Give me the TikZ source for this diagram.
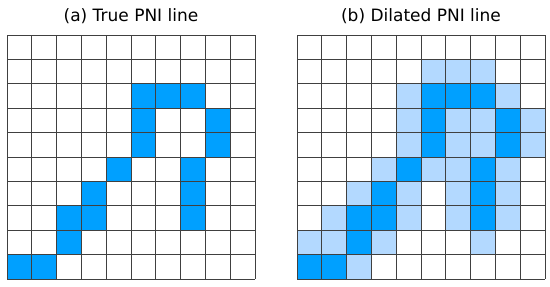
\documentclass[tikz,border=0pt]{standalone}
\usepackage{fontspec}
\setmainfont{DejaVu Sans}
\definecolor{lineblue}{HTML}{00A0FF}
\definecolor{dilblue}{HTML}{B3D9FF}
\begin{document}
\begin{tikzpicture}[x=1pt,y=-1pt,
cellgrid/.style={draw=black!75,line width=0.7pt},
truecell/.style={fill=lineblue},
dilcell/.style={fill=dilblue},
ttl/.style={font=\fontsize{17}{19}\selectfont,text=black}
]
\useasboundingbox (0,0) rectangle (550,287);
\node[ttl] (ta) at (131,16) {(a) True PNI line};
\node[ttl] (tb) at (421,16) {(b) Dilated PNI line};
% true line, both panels
\foreach \ox in {7,297}{
\foreach \c/\r in {5/2,6/2,7/2,5/3,8/3,5/4,8/4,4/5,7/5,3/6,7/6,2/7,3/7,7/7,2/8,0/9,1/9}
\fill[truecell] (\ox+\c*24.8,35+\r*24.4) rectangle ++(24.8,24.4);
}
% dilation
\foreach \c/\r in {5/1,6/1,7/1,4/2,8/2,4/3,6/3,7/3,9/3,4/4,6/4,7/4,9/4,3/5,5/5,6/5,8/5,2/6,4/6,6/6,8/6,1/7,4/7,6/7,8/7,0/8,1/8,3/8,7/8,2/9}
\fill[dilcell] (297+\c*24.8,35+\r*24.4) rectangle ++(24.8,24.4);
% grids
\foreach \ox in {7,297}{
\foreach \i in {0,...,10}{
\draw[cellgrid] (\ox+\i*24.8,35) -- (\ox+\i*24.8,279);
\draw[cellgrid] (\ox,35+\i*24.4) -- (\ox+248,35+\i*24.4);
}
}
\end{tikzpicture}
\end{document}
